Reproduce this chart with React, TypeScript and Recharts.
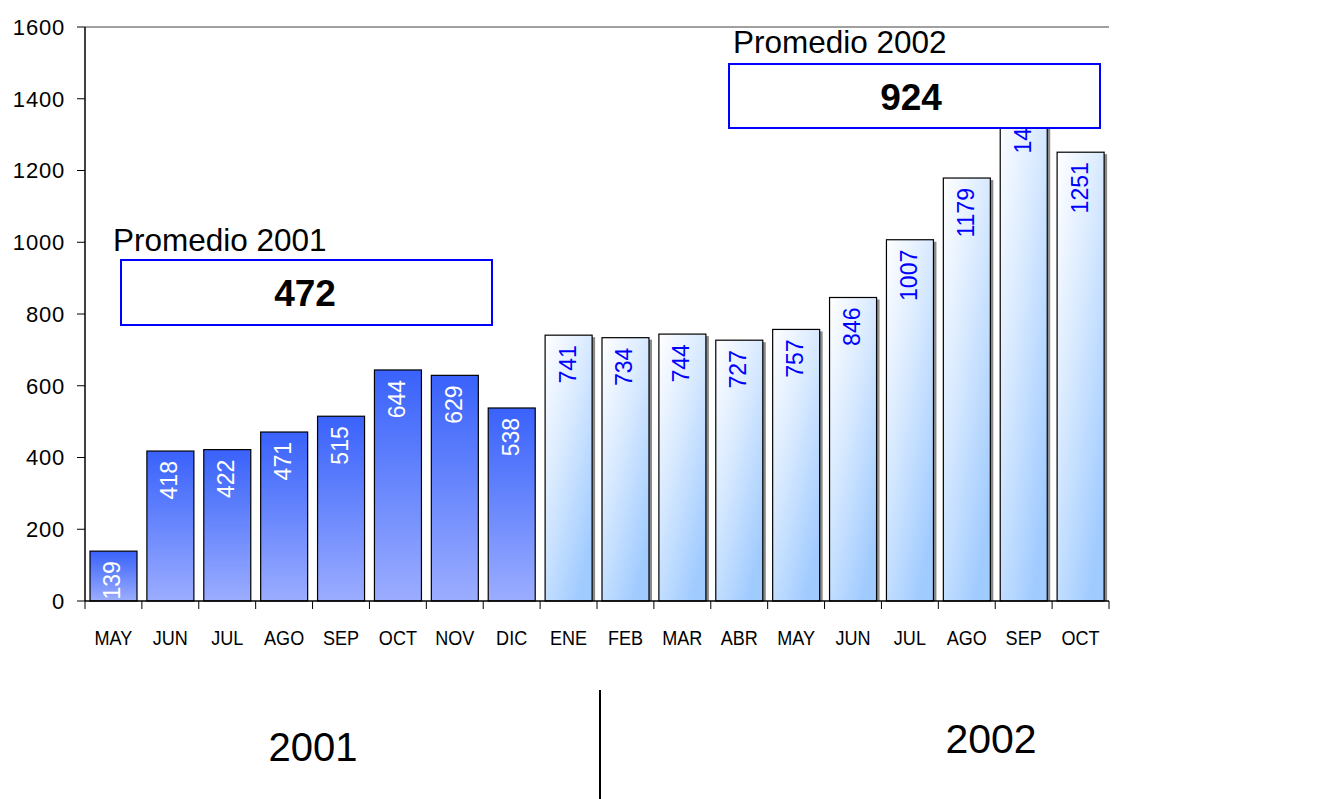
import React from 'react';
import { BarChart, Bar, XAxis, YAxis, Cell, LabelList, ReferenceLine } from 'recharts';

// monthly values, May 2001 - Oct 2002
const monthKeys = [
  'MAY01', 'JUN01', 'JUL01', 'AGO01', 'SEP01', 'OCT01', 'NOV01', 'DIC01',
  'ENE02', 'FEB02', 'MAR02', 'ABR02', 'MAY02', 'JUN02', 'JUL02', 'AGO02', 'SEP02', 'OCT02',
];
const monthLabels = [
  'MAY', 'JUN', 'JUL', 'AGO', 'SEP', 'OCT', 'NOV', 'DIC',
  'ENE', 'FEB', 'MAR', 'ABR', 'MAY', 'JUN', 'JUL', 'AGO', 'SEP', 'OCT',
];
const values = [139, 418, 422, 471, 515, 644, 629, 538, 741, 734, 744, 727, 757, 846, 1007, 1179, 1418, 1251];
const yearOf = [2001, 2001, 2001, 2001, 2001, 2001, 2001, 2001, 2002, 2002, 2002, 2002, 2002, 2002, 2002, 2002, 2002, 2002];
const yTicks = [0, 200, 400, 600, 800, 1000, 1200, 1400, 1600];

const averageLabels = ['Promedio 2001', 'Promedio 2002'];
const averageValues = [472, 924];
const yearLabels = ['2001', '2002'];

const data = monthKeys.map((key, i) => ({ key, label: monthLabels[i], value: values[i], year: yearOf[i] }));

const FONT = '"Liberation Sans", Arial, Helvetica, sans-serif';
const W = 1343;
const PLOT_LEFT = 85;
const PLOT_RIGHT = 1109;
const BAND = (PLOT_RIGHT - PLOT_LEFT) / data.length;

const MonthTick = (props: any) => {
  const { x, y, index } = props;
  const last = index === data.length - 1;
  return (
    <g>
      <line x1={x - BAND / 2} x2={x - BAND / 2} y1={y - 8} y2={y} stroke="#000" />
      {last && <line x1={x + BAND / 2} x2={x + BAND / 2} y1={y - 8} y2={y} stroke="#000" />}
      <text
        transform={`translate(${x}, ${y + 36}) scale(0.86, 1)`}
        textAnchor="middle"
        fontSize={21}
        fontFamily={FONT}
        fill="#000"
      >
        {monthLabels[index]}
      </text>
    </g>
  );
};

const BarShape = (props: any) => {
  const { x, y, width, height, payload } = props;
  const is2002 = payload.year === 2002;
  return (
    <g>
      {is2002 && <rect x={x + 3} y={y + 2} width={width} height={height - 2} fill="#8a8a8a" />}
      <rect
        x={x}
        y={y}
        width={width}
        height={height}
        fill={is2002 ? 'url(#g2002)' : 'url(#g2001)'}
        stroke="#000"
        strokeWidth={1.2}
      />
    </g>
  );
};

const ValueLabel = (props: any) => {
  const { x, y, width, value, index } = props;
  const cx = x + width / 2 - 1;
  const ty = y + 10;
  return (
    <text
      x={cx}
      y={ty}
      transform={`rotate(-90, ${cx}, ${ty})`}
      textAnchor="end"
      dominantBaseline="central"
      fontSize={23}
      fontFamily={FONT}
      fill={yearOf[index] === 2001 ? '#ffffff' : '#0000ff'}
    >
      {value}
    </text>
  );
};

export default function App() {
  return (
    <div style={{ position: 'absolute', left: 0, top: 0, width: W, height: 799, background: '#fff', fontFamily: FONT }}>
      <BarChart
        width={W}
        height={680}
        data={data}
        margin={{ top: 27, right: W - PLOT_RIGHT, left: 0, bottom: 0 }}
        barCategoryGap={5}
      >
        <defs>
          <linearGradient id="g2001" x1="0" y1="0" x2="0" y2="1">
            <stop offset="0%" stopColor="#3a62fb" />
            <stop offset="35%" stopColor="#5a7cfc" />
            <stop offset="100%" stopColor="#9cadff" />
          </linearGradient>
          <linearGradient id="g2002" x1="0" y1="0" x2="0.7" y2="1">
            <stop offset="0%" stopColor="#ffffff" />
            <stop offset="45%" stopColor="#d9eaff" />
            <stop offset="100%" stopColor="#a0cbff" />
          </linearGradient>
        </defs>
        <XAxis
          dataKey="key"
          height={79}
          interval={0}
          axisLine={{ stroke: '#000', strokeWidth: 1.5 }}
          tickLine={false}
          tickSize={8}
          tickMargin={0}
          tick={<MonthTick />}
        />
        <YAxis
          yAxisId="left"
          width={PLOT_LEFT}
          domain={[0, 1600]}
          ticks={yTicks}
          interval={0}
          axisLine={{ stroke: '#000', strokeWidth: 1.5 }}
          tickLine={{ stroke: '#000' }}
          tickSize={8}
          tickMargin={12}
          tick={{ fill: '#000', fontSize: 22, fontFamily: FONT, letterSpacing: 0.8 }}
        />
        <YAxis
          yAxisId="right"
          orientation="right"
          width={0}
          domain={[0, 1600]}
          tick={false}
          tickLine={false}
          axisLine={{ stroke: '#808080', strokeWidth: 1.5 }}
        />
        <ReferenceLine yAxisId="left" y={1600} stroke="#808080" strokeWidth={1.5} />
        <Bar yAxisId="left" dataKey="value" shape={<BarShape />} isAnimationActive={false}>
          {data.map((d, i) => (
            <Cell key={`c-${i}`} fill={d.year === 2001 ? 'url(#g2001)' : 'url(#g2002)'} />
          ))}
          <LabelList dataKey="value" content={<ValueLabel />} />
        </Bar>
      </BarChart>

      <svg width={W} height={799} style={{ position: 'absolute', left: 0, top: 0, pointerEvents: 'none' }}>
        <g fontFamily={FONT}>
          <text x={113} y={251} fontSize={31.5} fill="#000">{averageLabels[0]}</text>
          <rect x={121} y={260} width={371} height={65} fill="#fff" stroke="#0000ff" strokeWidth={2} />
          <text x={305} y={306} fontSize={37} fontWeight="bold" textAnchor="middle" fill="#000">{averageValues[0]}</text>

          <text x={733} y={53} fontSize={31.5} fill="#000">{averageLabels[1]}</text>
          <rect x={729} y={64} width={371} height={64} fill="#fff" stroke="#0000ff" strokeWidth={2} />
          <text x={911} y={110} fontSize={37} fontWeight="bold" textAnchor="middle" fill="#000">{averageValues[1]}</text>

          <line x1={600} x2={600} y1={690} y2={799} stroke="#000" strokeWidth={2} />
          <text x={313} y={761} fontSize={40} textAnchor="middle" fill="#000">{yearLabels[0]}</text>
          <text x={991} y={753} fontSize={41} textAnchor="middle" fill="#000">{yearLabels[1]}</text>
        </g>
      </svg>
    </div>
  );
}
